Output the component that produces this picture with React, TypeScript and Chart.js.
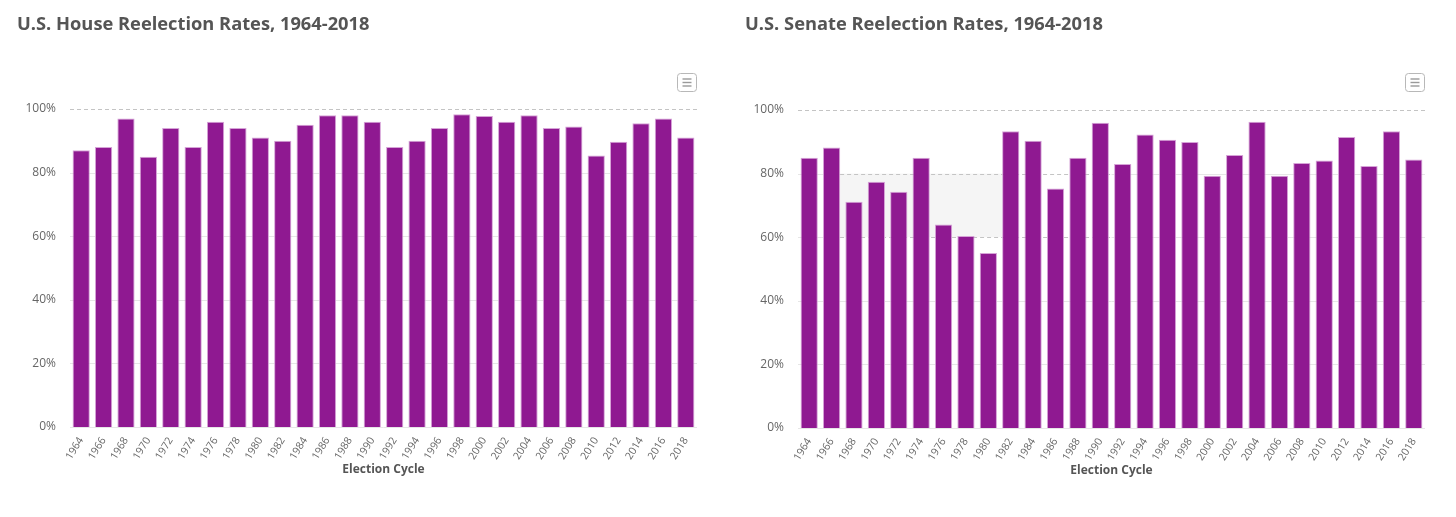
import React, { useEffect, useRef } from "react";
import { Chart, registerables } from "chart.js";

Chart.register(...registerables);

const years = [
  "1964", "1966", "1968", "1970", "1972", "1974", "1976", "1978", "1980", "1982",
  "1984", "1986", "1988", "1990", "1992", "1994", "1996", "1998", "2000", "2002",
  "2004", "2006", "2008", "2010", "2012", "2014", "2016", "2018",
];

const houseRates = [
  87, 88, 97, 85, 94, 88, 96, 94, 91, 90,
  95, 98, 98, 96, 88, 90, 94, 98.3, 97.8, 96,
  98, 94, 94.5, 85.4, 89.7, 95.5, 97, 91,
];

const senateRates = [
  85, 88.2, 71.1, 77.4, 74.3, 85, 64, 60.4, 55, 93.3,
  90.3, 75.3, 85, 96, 83, 92.3, 90.6, 89.9, 79.3, 85.8,
  96.3, 79.3, 83.3, 84.1, 91.5, 82.4, 93.3, 84.4,
];

const yTicks = [0, 20, 40, 60, 80, 100];

const houseTitle = "U.S. House Reelection Rates, 1964-2018";
const senateTitle = "U.S. Senate Reelection Rates, 1964-2018";
const xAxisTitle = "Election Cycle";

// Senate shaded band (category index range, value range) and dashed grid range
const senateBand = { from: 1.38, to: 8.62, yFrom: 60, yTo: 80 };
const senateDash = { from: 1.38, to: 13.5, values: [60, 80] };

const BAR_COLOR = "#8f1991";
const BAR_BORDER = "#d6a3d7";

const decorPlugin = {
  id: "decor",
  beforeDatasetsDraw(chart: any, _args: any, opts: any) {
    const { ctx, chartArea: a, scales } = chart;
    const x = scales.x;
    const y = scales.y;
    ctx.save();
    const band = opts.band;
    if (band) {
      const x0 = x.getPixelForValue(band.from);
      const x1 = x.getPixelForValue(band.to);
      const y0 = y.getPixelForValue(band.yTo);
      const y1 = y.getPixelForValue(band.yFrom);
      ctx.fillStyle = "#f5f5f5";
      ctx.fillRect(x0, y0, x1 - x0, y1 - y0);
    }
    const dash = opts.dash;
    const dx0 = dash ? x.getPixelForValue(dash.from) : 0;
    const dx1 = dash ? x.getPixelForValue(dash.to) : 0;
    const dashVals: number[] = dash ? Array.from(dash.values) : [];
    const line = (xa: number, xb: number, py: number, dashed: boolean) => {
      ctx.beginPath();
      ctx.lineWidth = 1;
      if (dashed) {
        ctx.setLineDash([4, 3]);
        ctx.strokeStyle = "#c4c4c4";
      } else {
        ctx.setLineDash([]);
        ctx.strokeStyle = "#e6e6e6";
      }
      ctx.moveTo(xa, py);
      ctx.lineTo(xb, py);
      ctx.stroke();
    };
    for (const v of yTicks) {
      const py = Math.round(y.getPixelForValue(v)) + 0.5;
      if (v === 100) {
        line(a.left, a.right, py, true);
      } else if (dashVals.includes(v)) {
        line(a.left, dx0, py, false);
        line(dx0, dx1, py, true);
        line(dx1, a.right, py, false);
      } else {
        line(a.left, a.right, py, false);
      }
    }
    ctx.restore();
  },
  afterDraw(chart: any) {
    const { ctx, chartArea: a } = chart;
    ctx.save();
    const bx = Math.round(a.right) - 19.5;
    const by = 73.5;
    ctx.beginPath();
    ctx.fillStyle = "#ffffff";
    ctx.strokeStyle = "#b8b8b8";
    ctx.lineWidth = 1;
    if ((ctx as any).roundRect) {
      (ctx as any).roundRect(bx, by, 19, 18, 3);
    } else {
      ctx.rect(bx, by, 19, 18);
    }
    ctx.fill();
    ctx.stroke();
    ctx.strokeStyle = "#9a9a9a";
    ctx.lineWidth = 1.4;
    for (const off of [5.5, 9, 12.5]) {
      ctx.beginPath();
      ctx.moveTo(bx + 5, by + off);
      ctx.lineTo(bx + 14, by + off);
      ctx.stroke();
    }
    ctx.restore();
  },
};

type PanelProps = {
  title: string;
  values: number[];
  band?: any;
  dash?: any;
  topShift?: number;
};

function Panel({ title, values, band, dash, topShift = 0 }: PanelProps) {
  const ref = useRef<HTMLCanvasElement | null>(null);
  useEffect(() => {
    if (!ref.current) return;
    const chart = new Chart(ref.current, {
      type: "bar",
      data: {
        labels: years,
        datasets: [
          {
            data: values,
            backgroundColor: BAR_COLOR,
            borderColor: BAR_BORDER,
            borderWidth: 1,
            borderSkipped: "bottom",
            barPercentage: 0.77,
            categoryPercentage: 1,
          },
        ],
      },
      options: {
        responsive: false,
        animation: false,
        layout: { padding: { left: 17, right: 31, top: 0, bottom: 0 } },
        plugins: {
          legend: { display: false },
          tooltip: { enabled: false },
          title: {
            display: true,
            text: title,
            align: "start",
            color: "#555555",
            font: { family: "'Open Sans', sans-serif", size: 18.3, weight: "bold", lineHeight: 1.2 },
            padding: { top: 14, bottom: 73.0 + topShift },
          },
          decor: { band, dash },
        } as any,
        scales: {
          x: {
            grid: { display: false },
            border: { display: false },
            ticks: {
              autoSkip: false,
              minRotation: 58,
              maxRotation: 58,
              padding: 0,
              color: "#666666",
              font: { family: "'Open Sans', sans-serif", size: 10.5 },
            },
            title: {
              display: true,
              text: xAxisTitle,
              color: "#555555",
              font: { family: "'Open Sans', sans-serif", size: 12, weight: "bold", lineHeight: 1.2 },
              padding: { top: 0, bottom: 40 - topShift },
            },
            afterFit: (scale: any) => {
              scale.height = 90 - topShift;
            },
          },
          y: {
            min: 0,
            max: 100,
            grid: { display: false },
            border: { display: false },
            ticks: {
              stepSize: 20,
              padding: 6,
              color: "#666666",
              font: { family: "'Open Sans', sans-serif", size: 12 },
              callback: (v: any) => v + "%",
            },
            afterFit: (scale: any) => {
              scale.width = 53;
            },
          },
        },
      },
      plugins: [decorPlugin],
    });
    return () => chart.destroy();
  }, [title, values, band, dash, topShift]);
  return <canvas ref={ref} width={728} height={517} style={{ display: "block" }} />;
}

export default function App() {
  return (
    <div style={{ position: "absolute", left: 0, top: 0, width: 1456, height: 517, background: "#ffffff" }}>
      <div style={{ position: "absolute", left: 0, top: 0, width: 728, height: 517 }}>
        <Panel title={houseTitle} values={houseRates} />
      </div>
      <div style={{ position: "absolute", left: 728, top: 0, width: 728, height: 517 }}>
        <Panel title={senateTitle} values={senateRates} band={senateBand} dash={senateDash} topShift={1} />
      </div>
    </div>
  );
}
